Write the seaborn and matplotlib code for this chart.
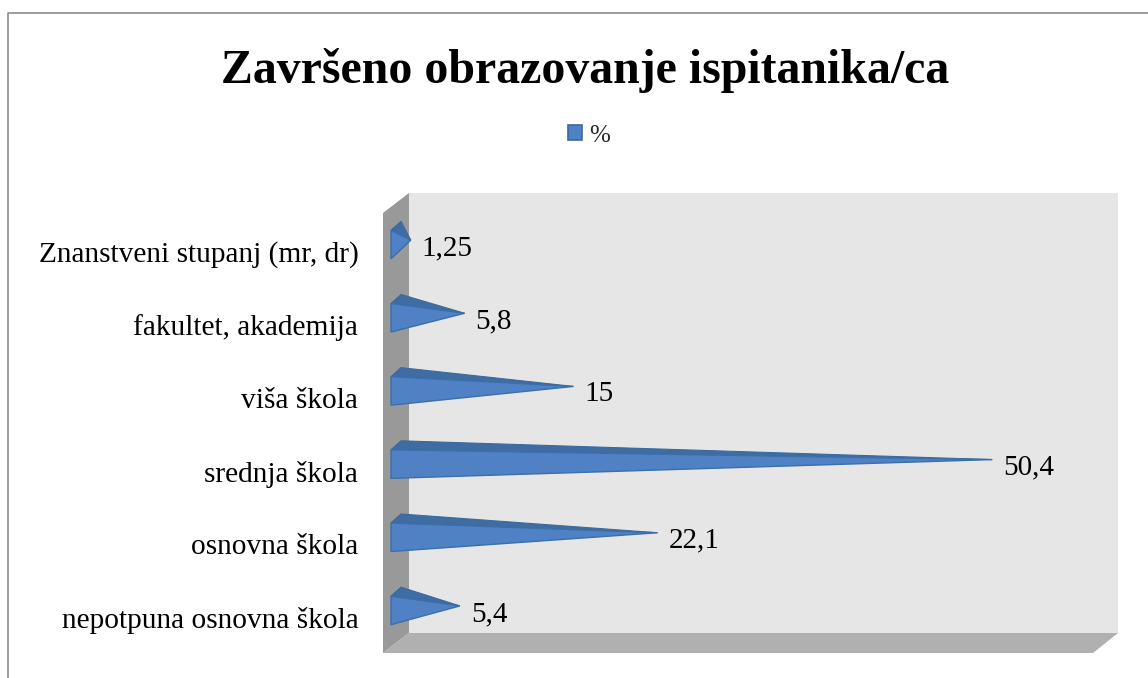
import pandas as pd
import seaborn as sns
import matplotlib.pyplot as plt
from matplotlib.patches import Polygon
from matplotlib.transforms import Affine2D, ScaledTranslation

# data
categories = ['Znanstveni stupanj (mr, dr)', 'fakultet, akademija', 'viša škola',
              'srednja škola', 'osnovna škola', 'nepotpuna osnovna škola']
values = [1.25, 5.8, 15, 50.4, 22.1, 5.4]
value_labels = ['1,25', '5,8', '15', '50,4', '22,1', '5,4']
series_name = '%'
title = 'Završeno obrazovanje ispitanika/ca'

W, H = 1148, 678
PX_PER_UNIT = 11.83
PX_PER_CAT = 73.2

sns.set_theme(style='white')
plt.rcParams['font.family'] = ['Liberation Serif', 'DejaVu Serif']

df = pd.DataFrame({'cat': categories, 'val': values})

fig = plt.figure(figsize=(W / 100, H / 100), dpi=100, facecolor='white')
# pixel coordinates of the picture, y going down
px = Affine2D().scale(1 / W, -1 / H).translate(0, 1) + fig.transFigure

# plane of the bars inside the 3d box
left, right, top, bottom = 391, 1091, 208, 647
ax = fig.add_axes([left / W, 1 - bottom / H, (right - left) / W, (bottom - top) / H])
ax.patch.set_visible(False)

sns.barplot(data=df, x='val', y='cat', orient='h', color='#4F81C4', saturation=1,
            width=0.39, label=series_name, ax=ax)
ax.set_xlim(0, (right - left) / PX_PER_UNIT)
ax.set_ylim(5.5, -0.5)
ax.set_xlabel('')
ax.set_ylabel('')
ax.set_xticks([])
ax.tick_params(axis='y', length=0, pad=23.5, labelsize=21.2, colors='black')
for s in ax.spines.values():
    s.set_visible(False)
for lab in ax.get_yticklabels():
    lab.set_transform(lab.get_transform() + ScaledTranslation(0, -7 / 100, fig.dpi_scale_trans))

# legend, made while the bars still carry their colour
leg = ax.legend(loc='center', bbox_to_anchor=(589 / W, 1 - 135.5 / H), bbox_transform=fig.transFigure,
                frameon=False, fontsize=18, handlelength=0.56, handleheight=0.56,
                handletextpad=0.32, borderpad=0, borderaxespad=0)
for h in leg.legend_handles:
    h.set_edgecolor('#3A6A9E')
    h.set_linewidth(1.2)

# walls of the box
wall = [
    ([(409, 193), (1118, 193), (1118, 633), (409, 633)], '#E6E6E6'),
    ([(383, 213), (409, 193), (409, 633), (383, 653)], '#999999'),
    ([(383, 653), (409, 633), (1118, 633), (1093, 653)], '#B0B0B0'),
]
for pts, c in wall:
    fig.add_artist(Polygon(pts, closed=True, facecolor=c, edgecolor='none', transform=px, zorder=-1))

# outer frame of the chart
fig.add_artist(plt.Line2D([8, 8, W], [H, 13, 13], color='#8C8C8C', lw=1.2, transform=px, zorder=-1))

# turn every seaborn bar into a pyramid
dx = 10 / PX_PER_UNIT
dy = 9 / PX_PER_CAT
for bar, lab in zip(ax.patches, value_labels):
    v = bar.get_width()
    y0, y1 = bar.get_y(), bar.get_y() + bar.get_height()
    yc = (y0 + y1) / 2
    tip = (v + dx / 2, yc - dy / 2)
    ax.add_patch(Polygon([(0, y0), (dx, y0 - dy), tip], closed=True, facecolor='#3F6CA3',
                         edgecolor='#3A6A9E', lw=0.8, zorder=3, clip_on=False))
    ax.add_patch(Polygon([(0, y0), (0, y1), tip], closed=True, facecolor='#4F81C4',
                         edgecolor='#3A6FA8', lw=1, zorder=4, clip_on=False))
    ax.annotate(lab, xy=tip, xytext=(11, -8), textcoords='offset pixels', ha='left', va='center',
                fontsize=21, color='black', annotation_clip=False)
    bar.set_visible(False)

fig.text(585 / W, 1 - 83 / H, title, ha='center', va='baseline', fontsize=34.5, fontweight='bold', color='black')

fig.savefig('out.png', dpi=100)
